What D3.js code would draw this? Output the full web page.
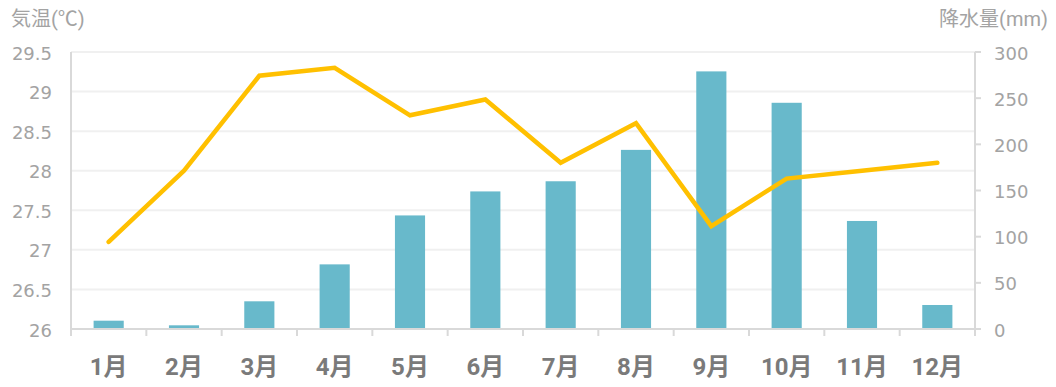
<!DOCTYPE html>
<html>
<head>
<meta charset="utf-8">
<script src="https://cdn.jsdelivr.net/npm/d3@7"></script>
<style>
  body { margin: 0; background: #fff; }
  svg text { font-family: Roboto, "Noto Sans CJK JP", sans-serif; }
  svg text.num { font-family: "DejaVu Sans", sans-serif; }
</style>
</head>
<body>
<div id="chart"></div>
<script>
const months = ["1月", "2月", "3月", "4月", "5月", "6月", "7月", "8月", "9月", "10月", "11月", "12月"];
const rainfall = [9, 4, 30, 70, 123, 149, 160, 194, 279, 245, 117, 26];
const temperature = [27.1, 28.0, 29.2, 29.3, 28.7, 28.9, 28.1, 28.6, 27.3, 27.9, 28.0, 28.1];
const tempTicks = [26, 26.5, 27, 27.5, 28, 28.5, 29, 29.5];
const rainTicks = [0, 50, 100, 150, 200, 250, 300];

const W = 1056, H = 387;
const margin = { top: 52, right: 81, bottom: 58, left: 71 };
const width = W - margin.left - margin.right;
const height = H - margin.top - margin.bottom;

const svg = d3.select("#chart").append("svg")
  .attr("width", W).attr("height", H);

const x = d3.scaleBand().domain(months).range([0, width]).paddingInner(0.6).paddingOuter(0.3);
const xb = d3.scaleBand().domain(months).range([0, width]);
const yT = d3.scaleLinear().domain([26, 29.5]).range([height, 0]);
const yR = d3.scaleLinear().domain([0, 300]).range([height, 0]);

const g = svg.append("g").attr("transform", `translate(${margin.left},${margin.top})`);

// gridlines
g.append("g").selectAll("line").data(tempTicks.slice(1)).enter().append("line")
  .attr("x1", 0).attr("x2", width)
  .attr("y1", d => yT(d)).attr("y2", d => yT(d))
  .attr("stroke", "#f0f0f0").attr("stroke-width", 2);

// bars
g.append("g").selectAll("rect").data(rainfall).enter().append("rect")
  .attr("x", (d, i) => x(months[i]))
  .attr("width", x.bandwidth())
  .attr("y", d => yR(d))
  .attr("height", d => height - yR(d))
  .attr("fill", "#68b9cb");

// axes lines
const axisColor = "#d9d9d9";
g.append("line").attr("x1", 0).attr("x2", 0).attr("y1", 0).attr("y2", height)
  .attr("stroke", axisColor).attr("stroke-width", 2);
g.append("line").attr("x1", width).attr("x2", width).attr("y1", 0).attr("y2", height + 7)
  .attr("stroke", axisColor).attr("stroke-width", 2);
g.append("line").attr("x1", 0).attr("x2", width).attr("y1", height).attr("y2", height)
  .attr("stroke", axisColor).attr("stroke-width", 2);

// x axis ticks at category boundaries
const bounds = months.map(m => xb(m)).concat([width]);
g.append("g").selectAll("line").data(bounds).enter().append("line")
  .attr("x1", d => d).attr("x2", d => d)
  .attr("y1", height).attr("y2", height + 7)
  .attr("stroke", axisColor).attr("stroke-width", 2);

// x labels
g.append("g").selectAll("text").data(months).enter().append("text")
  .attr("x", d => xb(d) + xb.bandwidth() / 2)
  .attr("y", height + 46)
  .attr("text-anchor", "middle")
  .attr("font-size", 24).attr("font-weight", "bold")
  .attr("fill", "#7a7a7a")
  .text(d => d);

// left tick labels
g.append("g").selectAll("text").data(tempTicks).enter().append("text")
  .attr("class", "num")
  .attr("x", -19).attr("y", d => yT(d))
  .attr("dy", "0.42em")
  .attr("text-anchor", "end")
  .attr("font-size", 18).attr("fill", "#a3a3a3")
  .text(d => d);

// right ticks + labels
g.append("g").selectAll("line").data(rainTicks).enter().append("line")
  .attr("x1", width).attr("x2", width + 6)
  .attr("y1", d => yR(d)).attr("y2", d => yR(d))
  .attr("stroke", axisColor).attr("stroke-width", 2);
g.append("g").selectAll("text").data(rainTicks).enter().append("text")
  .attr("class", "num")
  .attr("x", width + 19).attr("y", d => yR(d))
  .attr("dy", "0.42em")
  .attr("font-size", 18).attr("fill", "#a3a3a3")
  .text(d => d);

// temperature line
const line = d3.line()
  .x((d, i) => xb(months[i]) + xb.bandwidth() / 2)
  .y(d => yT(d));
g.append("path").datum(temperature)
  .attr("d", line)
  .attr("fill", "none")
  .attr("stroke", "#ffc000")
  .attr("stroke-width", 4.5)
  .attr("stroke-linecap", "round")
  .attr("stroke-linejoin", "miter");

// axis titles
svg.append("text").attr("x", 11).attr("y", 26)
  .attr("font-size", 20).attr("fill", "#a3a3a3")
  .text("気温(℃)");
svg.append("text").attr("x", 1048).attr("y", 26)
  .attr("text-anchor", "end")
  .attr("font-size", 20).attr("fill", "#a3a3a3")
  .text("降水量(mm)");
</script>
</body>
</html>
